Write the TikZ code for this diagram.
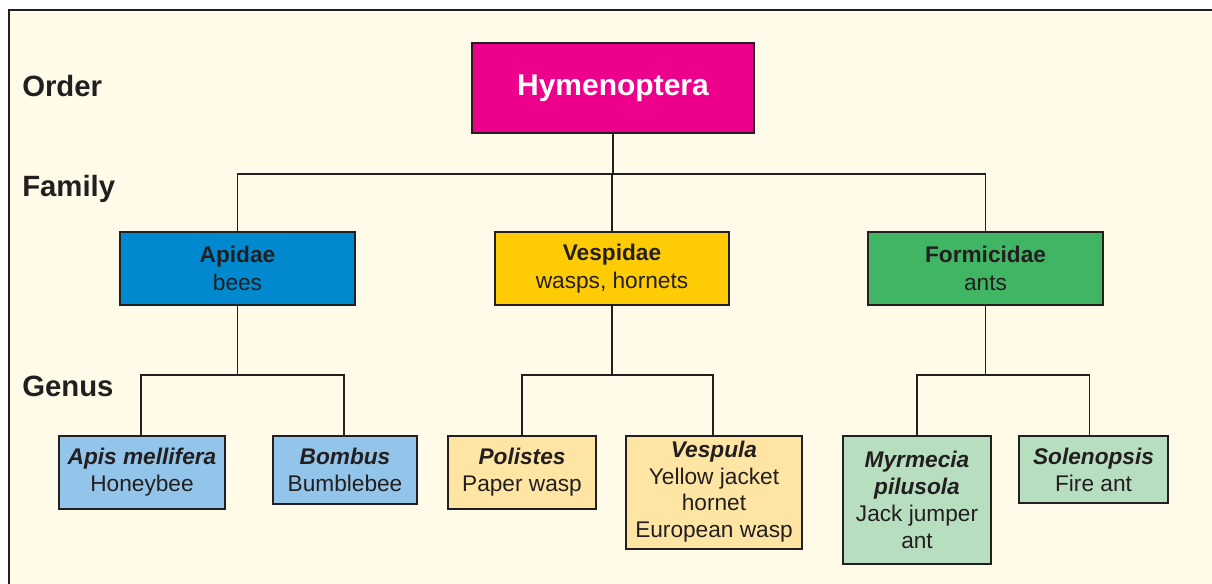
\documentclass[tikz,border=0pt]{standalone}
\usepackage{fontspec}
\setmainfont{Liberation Sans}
\definecolor{cream}{HTML}{FFFBE8}
\definecolor{ink}{HTML}{231F20}
\definecolor{magent}{HTML}{EC008C}
\definecolor{apiblue}{HTML}{0089CF}
\definecolor{vesyellow}{HTML}{FFCB05}
\definecolor{forgreen}{HTML}{40B563}
\definecolor{ltblue}{HTML}{93C4EA}
\definecolor{ltyellow}{HTML}{FFE5A3}
\definecolor{ltgreen}{HTML}{B8DEC0}
\tikzset{
  rank/.style={anchor=base west, inner sep=0pt, text=ink, font=\fontsize{22}{26}\selectfont\bfseries},
  box/.style={draw=ink, line width=1.5pt, inner sep=0pt, align=center, text=ink},
  fambox/.style={box, font=\fontsize{17}{20.5}\selectfont},
  genbox/.style={box, font=\fontsize{17}{20.2}\selectfont},
  conn/.style={draw=ink, line width=1.1pt},
}
\newcommand{\gname}[1]{\textbf{\textit{#1}}}
\begin{document}
\begin{tikzpicture}[x=0.75pt, y=-0.75pt]
\useasboundingbox (0,0) rectangle (1212,584);
\fill[white] (0,0) rectangle (1212,584);
\fill[cream] (9,10) rectangle (1212,584);
\draw[ink, line width=1.5pt] (9,584) -- (9,10) -- (1212,10);

\node[rank] (lorder) at (22,97) {Order};
\node[rank] (lfamily) at (22,197) {Family};
\node[rank] (lgenus) at (22,396) {Genus};

\node[box, fill=magent, text=white, minimum width=211.5pt, minimum height=67.5pt,
      font=\fontsize{22.5}{26}\selectfont\bfseries] (hym) at (613,88) {Hymenoptera};

\node[fambox, fill=apiblue, minimum width=176pt, minimum height=55pt] (api) at (237.5,268.5) {\textbf{Apidae}\\bees};
\node[fambox, fill=vesyellow, minimum width=176pt, minimum height=55pt] (ves) at (612,268.5) {\textbf{Vespidae}\\wasps, hornets};
\node[fambox, fill=forgreen, minimum width=176pt, minimum height=55pt] (for) at (985.5,268.5) {\textbf{Formicidae}\\ants};

\node[genbox, fill=ltblue, minimum width=124.5pt, minimum height=55pt] (apis) at (142,472.5) {\gname{Apis mellifera}\\Honeybee};
\node[genbox, fill=ltblue, minimum width=108.5pt, minimum height=51pt] (bomb) at (345,470) {\gname{Bombus}\\Bumblebee};
\node[genbox, fill=ltyellow, minimum width=111pt, minimum height=55pt] (pol) at (522,472.5) {\gname{Polistes}\\Paper wasp};
\node[genbox, fill=ltyellow, minimum width=132.5pt, minimum height=84.5pt, text depth=4.5pt] (vesp) at (714,492.3) {\gname{Vespula}\\Yellow jacket\\hornet\\European wasp};
\node[genbox, fill=ltgreen, minimum width=111.5pt, minimum height=96pt] (myr) at (917,500) {\gname{Myrmecia}\\\gname{pilusola}\\Jack jumper\\ant};
\node[genbox, fill=ltgreen, minimum width=111.5pt, minimum height=50pt] (sol) at (1093.5,469.5) {\gname{Solenopsis}\\Fire ant};

\coordinate (j1) at (613,174);
\coordinate (j2) at (237.5,375);
\coordinate (j3) at (612,375);
\coordinate (j4) at (985.5,375);

\draw[conn] (hym.south) -- (j1);
\draw[conn] (api.north) |- (j1) -| (for.north);
\draw[conn] (ves.north) -- (ves.north |- j1);

\draw[conn] (api.south) -- (j2);
\draw[conn] ([xshift=-0.75pt]apis.north) |- (j2) -| ([xshift=-0.75pt]bomb.north);
\draw[conn] (ves.south) -- (j3);
\draw[conn] (pol.north) |- (j3) -| ([xshift=-0.75pt]vesp.north);
\draw[conn] (for.south) -- (j4);
\draw[conn] (myr.north) |- (j4) -| ([xshift=-3pt]sol.north);
\end{tikzpicture}
\end{document}
